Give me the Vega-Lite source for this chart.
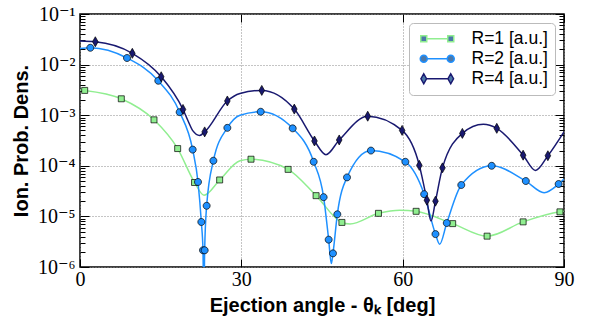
{
  "$schema": "https://vega.github.io/schema/vega-lite/v6.json",
  "width": 484,
  "height": 253,
  "autosize": {"type": "none"},
  "padding": {"left": 80, "top": 14, "right": 30, "bottom": 56},
  "background": "white",
  "config": {
    "view": {"stroke": "black", "strokeWidth": 1.5},
    "axis": {"domain": false, "labelColor": "black", "tickColor": "black", "titleColor": "black"}
  },
  "datasets": {
    "curve": [
      {"series": "R=1 [a.u.]", "angle": 0, "density": 3.16e-3},
      {"series": "R=1 [a.u.]", "angle": 0.87, "density": 3.09e-3},
      {"series": "R=1 [a.u.]", "angle": 7.68, "density": 2.11e-3},
      {"series": "R=1 [a.u.]", "angle": 13.76, "density": 8.1e-4},
      {"series": "R=1 [a.u.]", "angle": 18.16, "density": 2.19e-4},
      {"series": "R=1 [a.u.]", "angle": 21.3, "density": 4.68e-5},
      {"series": "R=1 [a.u.]", "angle": 23.06, "density": 2.63e-5},
      {"series": "R=1 [a.u.]", "angle": 25.97, "density": 5.25e-5},
      {"series": "R=1 [a.u.]", "angle": 29.75, "density": 1.26e-4},
      {"series": "R=1 [a.u.]", "angle": 31.8, "density": 1.35e-4},
      {"series": "R=1 [a.u.]", "angle": 38.7, "density": 8.5e-5},
      {"series": "R=1 [a.u.]", "angle": 43.9, "density": 2.57e-5},
      {"series": "R=1 [a.u.]", "angle": 48.7, "density": 7.6e-6},
      {"series": "R=1 [a.u.]", "angle": 50.2, "density": 7.1e-6},
      {"series": "R=1 [a.u.]", "angle": 55.5, "density": 1.15e-5},
      {"series": "R=1 [a.u.]", "angle": 59.5, "density": 1.33e-5},
      {"series": "R=1 [a.u.]", "angle": 62.5, "density": 1.26e-5},
      {"series": "R=1 [a.u.]", "angle": 69.3, "density": 7.2e-6},
      {"series": "R=1 [a.u.]", "angle": 75.7, "density": 4.07e-6},
      {"series": "R=1 [a.u.]", "angle": 82.4, "density": 7.8e-6},
      {"series": "R=1 [a.u.]", "angle": 89.25, "density": 1.23e-5},
      {"series": "R=1 [a.u.]", "angle": 90, "density": 1.26e-5},
      {"series": "R=2 [a.u.]", "angle": 0, "density": 2.09e-2},
      {"series": "R=2 [a.u.]", "angle": 1.92, "density": 2.15e-2},
      {"series": "R=2 [a.u.]", "angle": 8.74, "density": 1.35e-2},
      {"series": "R=2 [a.u.]", "angle": 14.56, "density": 4.79e-3},
      {"series": "R=2 [a.u.]", "angle": 18.53, "density": 1.15e-3},
      {"series": "R=2 [a.u.]", "angle": 20.95, "density": 2.09e-4},
      {"series": "R=2 [a.u.]", "angle": 21.94, "density": 4.79e-5},
      {"series": "R=2 [a.u.]", "angle": 22.56, "density": 7.76e-6},
      {"series": "R=2 [a.u.]", "angle": 22.87, "density": 2.14e-6},
      {"series": "R=2 [a.u.]", "angle": 23.02, "density": 1e-7},
      {"series": "R=2 [a.u.]", "angle": 23.18, "density": 2.14e-6},
      {"series": "R=2 [a.u.]", "angle": 23.55, "density": 1.62e-5},
      {"series": "R=2 [a.u.]", "angle": 24.8, "density": 1.26e-4},
      {"series": "R=2 [a.u.]", "angle": 27.4, "density": 5.62e-4},
      {"series": "R=2 [a.u.]", "angle": 29.75, "density": 1.0e-3},
      {"series": "R=2 [a.u.]", "angle": 33.6, "density": 1.17e-3},
      {"series": "R=2 [a.u.]", "angle": 39.55, "density": 5.5e-4},
      {"series": "R=2 [a.u.]", "angle": 43.45, "density": 1.2e-4},
      {"series": "R=2 [a.u.]", "angle": 45.3, "density": 2.4e-5},
      {"series": "R=2 [a.u.]", "angle": 46.24, "density": 3.47e-6},
      {"series": "R=2 [a.u.]", "angle": 46.73, "density": 1.17e-6},
      {"series": "R=2 [a.u.]", "angle": 47.04, "density": 1.86e-6},
      {"series": "R=2 [a.u.]", "angle": 47.85, "density": 1.1e-5},
      {"series": "R=2 [a.u.]", "angle": 49.65, "density": 5.9e-5},
      {"series": "R=2 [a.u.]", "angle": 54.1, "density": 2.0e-4},
      {"series": "R=2 [a.u.]", "angle": 60.5, "density": 1.2e-4},
      {"series": "R=2 [a.u.]", "angle": 64.0, "density": 2.75e-5},
      {"series": "R=2 [a.u.]", "angle": 66.1, "density": 4.47e-6},
      {"series": "R=2 [a.u.]", "angle": 66.88, "density": 2.82e-6},
      {"series": "R=2 [a.u.]", "angle": 68.2, "density": 7.4e-6},
      {"series": "R=2 [a.u.]", "angle": 70.9, "density": 4.17e-5},
      {"series": "R=2 [a.u.]", "angle": 76.55, "density": 1.0e-4},
      {"series": "R=2 [a.u.]", "angle": 82.9, "density": 5.0e-5},
      {"series": "R=2 [a.u.]", "angle": 86.3, "density": 2.95e-5},
      {"series": "R=2 [a.u.]", "angle": 89.0, "density": 4.37e-5},
      {"series": "R=2 [a.u.]", "angle": 90, "density": 5.5e-5},
      {"series": "R=4 [a.u.]", "angle": 0, "density": 2.92e-2},
      {"series": "R=4 [a.u.]", "angle": 2.85, "density": 2.83e-2},
      {"series": "R=4 [a.u.]", "angle": 9.73, "density": 1.67e-2},
      {"series": "R=4 [a.u.]", "angle": 15.1, "density": 5.75e-3},
      {"series": "R=4 [a.u.]", "angle": 19.15, "density": 1.30e-3},
      {"series": "R=4 [a.u.]", "angle": 20.08, "density": 7.76e-4},
      {"series": "R=4 [a.u.]", "angle": 21.0, "density": 4.9e-4},
      {"series": "R=4 [a.u.]", "angle": 22.25, "density": 3.98e-4},
      {"series": "R=4 [a.u.]", "angle": 23.18, "density": 4.68e-4},
      {"series": "R=4 [a.u.]", "angle": 27.4, "density": 1.91e-3},
      {"series": "R=4 [a.u.]", "angle": 29.75, "density": 2.69e-3},
      {"series": "R=4 [a.u.]", "angle": 33.8, "density": 3.09e-3},
      {"series": "R=4 [a.u.]", "angle": 39.85, "density": 1.32e-3},
      {"series": "R=4 [a.u.]", "angle": 43.6, "density": 3.09e-4},
      {"series": "R=4 [a.u.]", "angle": 45.74, "density": 1.66e-4},
      {"series": "R=4 [a.u.]", "angle": 48.2, "density": 3.24e-4},
      {"series": "R=4 [a.u.]", "angle": 53.5, "density": 9.55e-4},
      {"series": "R=4 [a.u.]", "angle": 59.9, "density": 5.01e-4},
      {"series": "R=4 [a.u.]", "angle": 63.1, "density": 1.02e-4},
      {"series": "R=4 [a.u.]", "angle": 64.5, "density": 2.09e-5},
      {"series": "R=4 [a.u.]", "angle": 65.27, "density": 8.1e-6},
      {"series": "R=4 [a.u.]", "angle": 66.1, "density": 2.0e-5},
      {"series": "R=4 [a.u.]", "angle": 67.4, "density": 9.1e-5},
      {"series": "R=4 [a.u.]", "angle": 71.1, "density": 4.37e-4},
      {"series": "R=4 [a.u.]", "angle": 75.0, "density": 6.6e-4},
      {"series": "R=4 [a.u.]", "angle": 77.5, "density": 5.5e-4},
      {"series": "R=4 [a.u.]", "angle": 82.4, "density": 1.62e-4},
      {"series": "R=4 [a.u.]", "angle": 84.7, "density": 8.1e-5},
      {"series": "R=4 [a.u.]", "angle": 87.0, "density": 1.58e-4},
      {"series": "R=4 [a.u.]", "angle": 90, "density": 4.7e-4}
    ],
    "samples": [
      {"series": "R=1 [a.u.]", "angle": 0.87, "density": 3.09e-3},
      {"series": "R=1 [a.u.]", "angle": 7.68, "density": 2.11e-3},
      {"series": "R=1 [a.u.]", "angle": 13.76, "density": 8.1e-4},
      {"series": "R=1 [a.u.]", "angle": 18.16, "density": 2.19e-4},
      {"series": "R=1 [a.u.]", "angle": 21.3, "density": 4.68e-5},
      {"series": "R=1 [a.u.]", "angle": 25.97, "density": 5.25e-5},
      {"series": "R=1 [a.u.]", "angle": 31.8, "density": 1.35e-4},
      {"series": "R=1 [a.u.]", "angle": 38.7, "density": 8.5e-5},
      {"series": "R=1 [a.u.]", "angle": 43.9, "density": 2.57e-5},
      {"series": "R=1 [a.u.]", "angle": 48.7, "density": 7.6e-6},
      {"series": "R=1 [a.u.]", "angle": 55.5, "density": 1.15e-5},
      {"series": "R=1 [a.u.]", "angle": 62.5, "density": 1.26e-5},
      {"series": "R=1 [a.u.]", "angle": 69.3, "density": 7.2e-6},
      {"series": "R=1 [a.u.]", "angle": 75.7, "density": 4.07e-6},
      {"series": "R=1 [a.u.]", "angle": 82.4, "density": 7.8e-6},
      {"series": "R=1 [a.u.]", "angle": 89.25, "density": 1.23e-5},
      {"series": "R=2 [a.u.]", "angle": 1.92, "density": 2.15e-2},
      {"series": "R=2 [a.u.]", "angle": 8.74, "density": 1.35e-2},
      {"series": "R=2 [a.u.]", "angle": 14.56, "density": 4.79e-3},
      {"series": "R=2 [a.u.]", "angle": 18.53, "density": 1.15e-3},
      {"series": "R=2 [a.u.]", "angle": 20.95, "density": 2.09e-4},
      {"series": "R=2 [a.u.]", "angle": 21.94, "density": 4.79e-5},
      {"series": "R=2 [a.u.]", "angle": 22.56, "density": 7.76e-6},
      {"series": "R=2 [a.u.]", "angle": 22.87, "density": 2.14e-6},
      {"series": "R=2 [a.u.]", "angle": 23.18, "density": 2.14e-6},
      {"series": "R=2 [a.u.]", "angle": 23.55, "density": 1.62e-5},
      {"series": "R=2 [a.u.]", "angle": 24.8, "density": 1.26e-4},
      {"series": "R=2 [a.u.]", "angle": 27.4, "density": 5.62e-4},
      {"series": "R=2 [a.u.]", "angle": 33.6, "density": 1.17e-3},
      {"series": "R=2 [a.u.]", "angle": 39.55, "density": 5.5e-4},
      {"series": "R=2 [a.u.]", "angle": 43.45, "density": 1.2e-4},
      {"series": "R=2 [a.u.]", "angle": 45.3, "density": 2.4e-5},
      {"series": "R=2 [a.u.]", "angle": 46.24, "density": 3.47e-6},
      {"series": "R=2 [a.u.]", "angle": 47.04, "density": 1.86e-6},
      {"series": "R=2 [a.u.]", "angle": 47.85, "density": 1.1e-5},
      {"series": "R=2 [a.u.]", "angle": 49.65, "density": 5.9e-5},
      {"series": "R=2 [a.u.]", "angle": 54.1, "density": 2.0e-4},
      {"series": "R=2 [a.u.]", "angle": 60.5, "density": 1.2e-4},
      {"series": "R=2 [a.u.]", "angle": 64.0, "density": 2.75e-5},
      {"series": "R=2 [a.u.]", "angle": 66.1, "density": 4.47e-6},
      {"series": "R=2 [a.u.]", "angle": 68.2, "density": 7.4e-6},
      {"series": "R=2 [a.u.]", "angle": 70.9, "density": 4.17e-5},
      {"series": "R=2 [a.u.]", "angle": 76.55, "density": 1.0e-4},
      {"series": "R=2 [a.u.]", "angle": 82.9, "density": 5.0e-5},
      {"series": "R=2 [a.u.]", "angle": 89.0, "density": 4.37e-5},
      {"series": "R=4 [a.u.]", "angle": 2.85, "density": 2.83e-2},
      {"series": "R=4 [a.u.]", "angle": 9.73, "density": 1.67e-2},
      {"series": "R=4 [a.u.]", "angle": 15.1, "density": 5.75e-3},
      {"series": "R=4 [a.u.]", "angle": 19.15, "density": 1.30e-3},
      {"series": "R=4 [a.u.]", "angle": 23.18, "density": 4.68e-4},
      {"series": "R=4 [a.u.]", "angle": 27.4, "density": 1.91e-3},
      {"series": "R=4 [a.u.]", "angle": 33.8, "density": 3.09e-3},
      {"series": "R=4 [a.u.]", "angle": 39.85, "density": 1.32e-3},
      {"series": "R=4 [a.u.]", "angle": 43.6, "density": 3.09e-4},
      {"series": "R=4 [a.u.]", "angle": 48.2, "density": 3.24e-4},
      {"series": "R=4 [a.u.]", "angle": 53.5, "density": 9.55e-4},
      {"series": "R=4 [a.u.]", "angle": 59.9, "density": 5.01e-4},
      {"series": "R=4 [a.u.]", "angle": 63.1, "density": 1.02e-4},
      {"series": "R=4 [a.u.]", "angle": 64.5, "density": 2.09e-5},
      {"series": "R=4 [a.u.]", "angle": 66.1, "density": 2.0e-5},
      {"series": "R=4 [a.u.]", "angle": 67.4, "density": 9.1e-5},
      {"series": "R=4 [a.u.]", "angle": 71.1, "density": 4.37e-4},
      {"series": "R=4 [a.u.]", "angle": 77.5, "density": 5.5e-4},
      {"series": "R=4 [a.u.]", "angle": 82.4, "density": 1.62e-4},
      {"series": "R=4 [a.u.]", "angle": 87.0, "density": 1.58e-4}
    ]
  },
  "resolve": {
    "scale": {"shape": "independent", "fill": "independent", "stroke": "independent"},
    "axis": {"x": "independent", "y": "independent"},
    "legend": {"shape": "independent", "fill": "independent", "stroke": "independent"}
  },
  "layer": [
    {
      "data": {"name": "curve"},
      "mark": {"type": "line", "interpolate": "monotone", "strokeWidth": 1.5, "clip": true},
      "encoding": {
        "x": {
          "field": "angle", "type": "quantitative",
          "scale": {"domain": [0, 90], "nice": false, "zero": false},
          "axis": {
            "orient": "bottom", "values": [0, 30, 60, 90], "ticks": false,
            "grid": true, "gridColor": "#8a8a8a", "gridDash": [1, 2], "gridWidth": 1,
            "labelFont": "Liberation Serif", "labelFontSize": 20, "labelPadding": 2,
            "labelFlush": false, "labelOverlap": false,
            "title": "Ejection angle - θₖ [deg]", "titleFont": "Liberation Sans",
            "titleFontSize": 20, "titleFontWeight": "bold", "titlePadding": 6
          }
        },
        "y": {
          "field": "density", "type": "quantitative",
          "scale": {"type": "log", "domain": [1e-6, 0.1], "nice": false},
          "axis": {
            "orient": "left", "values": [1e-6, 1e-5, 1e-4, 1e-3, 1e-2, 1e-1], "ticks": false,
            "grid": true, "gridColor": "#8a8a8a", "gridDash": [1, 2], "gridWidth": 1,
            "labelExpr": "'10' + ['⁻¹','⁻²','⁻³','⁻⁴','⁻⁵','⁻⁶'][-round(log(datum.value)/LN10)-1]",
            "labelFont": "Liberation Serif, DejaVu Serif", "labelFontSize": 20, "labelPadding": 5,
            "labelOverlap": false,
            "title": "Ion. Prob. Dens.", "titleFont": "Liberation Sans",
            "titleFontSize": 20, "titleFontWeight": "bold", "titlePadding": 6
          }
        },
        "color": {
          "field": "series", "type": "nominal",
          "scale": {"domain": ["R=1 [a.u.]", "R=2 [a.u.]", "R=4 [a.u.]"], "range": ["#90ee90", "#1e90ff", "#191970"]},
          "legend": null
        },
        "detail": {"field": "series"}
      }
    },
    {
      "data": {"name": "samples"},
      "mark": {"type": "point", "filled": true, "size": 100, "opacity": 1, "stroke": "black", "strokeWidth": 0.7},
      "encoding": {
        "x": {
          "field": "angle", "type": "quantitative",
          "axis": {"orient": "bottom", "values": [0, 30, 60, 90], "labels": false, "grid": false, "tickSize": -8, "tickWidth": 1, "title": null}
        },
        "y": {
          "field": "density", "type": "quantitative",
          "axis": {
            "orient": "left", "labels": false, "grid": false, "title": null, "tickWidth": 1,
            "values": [1e-6,2e-6,3e-6,4e-6,5e-6,6e-6,7e-6,8e-6,9e-6,1e-5,2e-5,3e-5,4e-5,5e-5,6e-5,7e-5,8e-5,9e-5,1e-4,2e-4,3e-4,4e-4,5e-4,6e-4,7e-4,8e-4,9e-4,1e-3,2e-3,3e-3,4e-3,5e-3,6e-3,7e-3,8e-3,9e-3,1e-2,2e-2,3e-2,4e-2,5e-2,6e-2,7e-2,8e-2,9e-2,1e-1],
            "tickSize": {"condition": {"test": "abs(log(datum.value)/LN10 - round(log(datum.value)/LN10)) < 0.01", "value": -9}, "value": -5}
          }
        },
        "color": {"field": "series", "type": "nominal", "legend": null},
        "shape": {
          "field": "series", "type": "nominal",
          "scale": {"domain": ["R=1 [a.u.]", "R=2 [a.u.]", "R=4 [a.u.]"], "range": ["M-0.6,-0.6H0.6V0.6H-0.6Z", "M0.7,0A0.7,0.7 0 1,1 -0.7,0A0.7,0.7 0 1,1 0.7,0Z", "M0,-1L0.56,0L0,1L-0.56,0Z"]},
          "legend": null
        }
      }
    },
    {
      "data": {"name": "samples"},
      "mark": {"type": "point", "filled": true, "size": 100, "opacity": 0, "strokeWidth": 1.5},
      "encoding": {
        "x": {
          "field": "angle", "type": "quantitative",
          "axis": {"orient": "top", "values": [0, 30, 60, 90], "labels": false, "grid": false, "tickSize": -8, "tickWidth": 1, "title": null}
        },
        "y": {
          "field": "density", "type": "quantitative",
          "axis": {
            "orient": "right", "labels": false, "grid": false, "title": null, "tickWidth": 1,
            "values": [1e-6,2e-6,3e-6,4e-6,5e-6,6e-6,7e-6,8e-6,9e-6,1e-5,2e-5,3e-5,4e-5,5e-5,6e-5,7e-5,8e-5,9e-5,1e-4,2e-4,3e-4,4e-4,5e-4,6e-4,7e-4,8e-4,9e-4,1e-3,2e-3,3e-3,4e-3,5e-3,6e-3,7e-3,8e-3,9e-3,1e-2,2e-2,3e-2,4e-2,5e-2,6e-2,7e-2,8e-2,9e-2,1e-1],
            "tickSize": {"condition": {"test": "abs(log(datum.value)/LN10 - round(log(datum.value)/LN10)) < 0.01", "value": -9}, "value": -5}
          }
        },
        "stroke": {
          "field": "series", "type": "nominal",
          "scale": {"domain": ["R=1 [a.u.]", "R=2 [a.u.]", "R=4 [a.u.]"], "range": ["#90ee90", "#1e90ff", "#191970"]}
        },
        "shape": {
          "field": "series", "type": "nominal",
          "scale": {"domain": ["R=1 [a.u.]", "R=2 [a.u.]", "R=4 [a.u.]"], "range": [
            "M0.4,0H4.6M-0.8,-0.6H0.4V0.6H-0.8ZM4.6,-0.6H5.8V0.6H4.6Z",
            "M0.5,0H4.5M0.5,0A0.7,0.7 0 1,1 -0.9,0A0.7,0.7 0 1,1 0.5,0ZM5.9,0A0.7,0.7 0 1,1 4.5,0A0.7,0.7 0 1,1 5.9,0Z",
            "M0.36,0H4.64M-0.2,-1L0.36,0L-0.2,1L-0.76,0ZM5.2,-1L5.76,0L5.2,1L4.64,0Z"
          ]},
          "legend": {
            "title": null, "orient": "none", "legendX": 329, "legendY": 9,
            "symbolSize": 100, "symbolStrokeWidth": 1.5,
            "labelFont": "Liberation Sans", "labelFontSize": 17.5, "labelColor": "black", "labelOffset": 38,
            "rowPadding": 1, "padding": 7,
            "strokeColor": "#bbbbbb", "fillColor": "white", "cornerRadius": 4,
            "encode": {"symbols": {"update": {
              "opacity": {"value": 1},
              "fillOpacity": {"value": 1},
              "fill": {"signal": "datum.value === 'R=1 [a.u.]' ? '#90ee90' : datum.value === 'R=2 [a.u.]' ? '#1e90ff' : '#191970'"}
            }}}
          }
        }
      }
    }
  ]
}
